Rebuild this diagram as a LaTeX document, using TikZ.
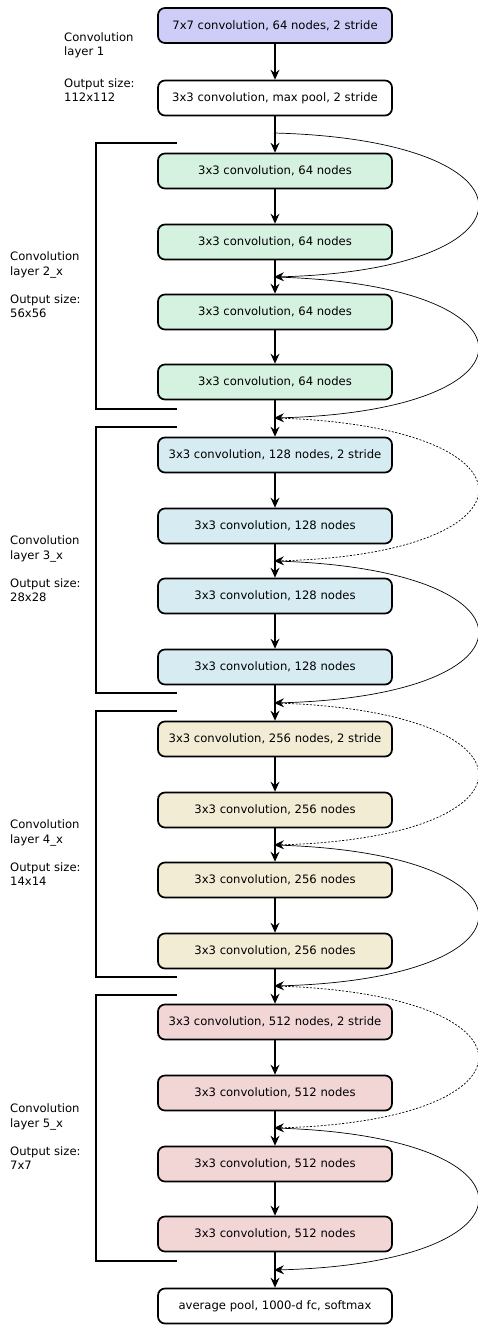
\documentclass[tikz,border=0pt]{standalone}
\usepackage{fontspec}
\setmainfont{DejaVu Sans}
\usetikzlibrary{arrows.meta}
\definecolor{cA}{HTML}{CDCDF7}
\definecolor{cB}{HTML}{D5F1E0}
\definecolor{cC}{HTML}{D6ECF2}
\definecolor{cD}{HTML}{F3ECD5}
\definecolor{cE}{HTML}{F2D6D6}
\tikzset{
  layerbox/.style={draw, line width=1.7pt, rounded corners=7pt, minimum width=234pt,
    minimum height=35pt, inner xsep=3pt, font=\fontsize{11.6}{14}\selectfont},
  flow/.style={line width=1.3pt, -{Stealth[length=10pt,width=9pt,inset=3.5pt]}},
  skipline/.style={line width=0.7pt, -{Stealth[length=10pt,width=9pt,inset=3.5pt]}},
  skipdash/.style={skipline, dash pattern=on 2pt off 1.6pt},
  brace/.style={line width=1.2pt},
  sidelabel/.style={anchor=west, align=left, inner sep=0pt, font=\fontsize{11.6}{14.5}\selectfont}
}
\begin{document}
\begin{tikzpicture}[x=1pt,y=-1pt]
\useasboundingbox (0,0) rectangle (477,1330);

% stem
\node[layerbox, fill=cA] (c1) at (275,25.5) {7x7 convolution, 64 nodes, 2 stride};
\node[layerbox, fill=white] (pool) at (275,98) {3x3 convolution, max pool, 2 stride};

% conv2_x
\node[layerbox, fill=cB] (b21) at (275,171) {3x3 convolution, 64 nodes};
\node[layerbox, fill=cB] (b22) at (275,242) {3x3 convolution, 64 nodes};
\node[layerbox, fill=cB] (b23) at (275,312) {3x3 convolution, 64 nodes};
\node[layerbox, fill=cB] (b24) at (275,382) {3x3 convolution, 64 nodes};

% conv3_x
\node[layerbox, fill=cC] (b31) at (275,455) {3x3 convolution, 128 nodes, 2 stride};
\node[layerbox, fill=cC] (b32) at (275,526) {3x3 convolution, 128 nodes};
\node[layerbox, fill=cC] (b33) at (275,596) {3x3 convolution, 128 nodes};
\node[layerbox, fill=cC] (b34) at (275,667) {3x3 convolution, 128 nodes};

% conv4_x
\node[layerbox, fill=cD] (b41) at (275,739) {3x3 convolution, 256 nodes, 2 stride};
\node[layerbox, fill=cD] (b42) at (275,810) {3x3 convolution, 256 nodes};
\node[layerbox, fill=cD] (b43) at (275,880) {3x3 convolution, 256 nodes};
\node[layerbox, fill=cD] (b44) at (275,951) {3x3 convolution, 256 nodes};

% conv5_x
\node[layerbox, fill=cE] (b51) at (275,1022) {3x3 convolution, 512 nodes, 2 stride};
\node[layerbox, fill=cE] (b52) at (275,1093) {3x3 convolution, 512 nodes};
\node[layerbox, fill=cE] (b53) at (275,1164) {3x3 convolution, 512 nodes};
\node[layerbox, fill=cE] (b54) at (275,1234) {3x3 convolution, 512 nodes};

% head
\node[layerbox, fill=white] (avg) at (275,1306) {average pool, 1000-d fc, softmax};

% main path
\foreach \a/\b in {c1/pool,pool/b21,b21/b22,b22/b23,b23/b24,b24/b31,
                   b31/b32,b32/b33,b33/b34,b34/b41,b41/b42,b42/b43,b43/b44,
                   b44/b51,b51/b52,b52/b53,b53/b54,b54/avg}
  \draw[flow] (\a) -- (\b);

% junctions for the shortcuts
\foreach \n/\y in {0/133,1/277,2/418,3/561,4/703,5/845,6/986,7/1128,8/1270}
  \coordinate (j\n) at (274,\y);

% shortcut connections
\draw[skipline] (j0) .. controls +(272,7) and +(272,-7) .. (j1);
\draw[skipline] (j1) .. controls +(272,7) and +(272,-7) .. (j2);
\draw[skipdash] (j2) .. controls +(272,7) and +(272,-7) .. (j3);
\draw[skipline] (j3) .. controls +(272,7) and +(272,-7) .. (j4);
\draw[skipdash] (j4) .. controls +(272,7) and +(272,-7) .. (j5);
\draw[skipline] (j5) .. controls +(272,7) and +(272,-7) .. (j6);
\draw[skipdash] (j6) .. controls +(272,7) and +(272,-7) .. (j7);
\draw[skipline] (j7) .. controls +(272,7) and +(272,-7) .. (j8);

% group brackets and labels
\node[sidelabel] (l1a) at (64,45.5) {Convolution\\layer 1};
\node[sidelabel] (l1b) at (64,90) {Output size:\\112x112};
\foreach \t/\name/\size in {143/2\_x/56x56, 427/3\_x/28x28, 711/4\_x/14x14, 995/5\_x/7x7}{
  \draw[brace] (177,\t) -| (96,\t+266) -- (177,\t+266);
  \node[sidelabel] at (10,\t+122) {Convolution\\layer \name};
  \node[sidelabel] at (10,\t+163) {Output size:\\\size};
}
\end{tikzpicture}
\end{document}
